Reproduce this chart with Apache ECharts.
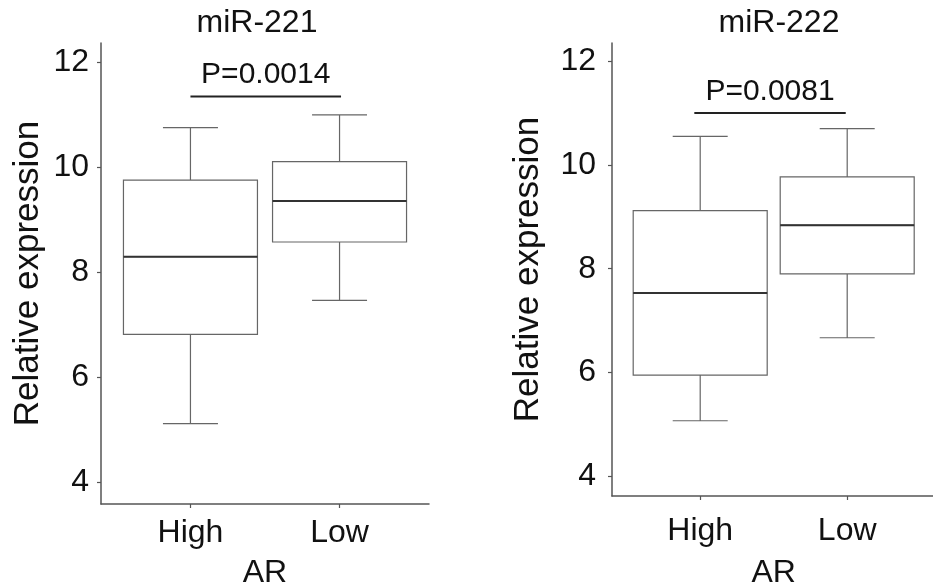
<!DOCTYPE html>
<html><head><meta charset="utf-8">
<script src="https://cdn.jsdelivr.net/npm/echarts@6/dist/echarts.min.js"></script>
<style>html,body{margin:0;padding:0;background:#fff}#c{width:933px;height:586px}</style>
</head><body><div id="c"></div>
<script>
// ---- data ----
const categories = ['High', 'Low'];
const titles = ['miR-221', 'miR-222'];
const xAxisName = 'AR';
const yAxisName = 'Relative expression';
const yTicks = [4, 6, 8, 10, 12];
// [min, Q1, median, Q3, max]
const mir221High = [5.12, 6.82, 8.30, 9.76, 10.76];
const mir221Low  = [7.47, 8.58, 9.36, 10.11, 11.00];
const mir222High = [5.07, 5.95, 7.53, 9.12, 10.55];
const mir222Low  = [6.67, 7.90, 8.84, 9.77, 10.70];
const pLabels = ['P=0.0014', 'P=0.0081'];
const pBarY = [11.35, 11.00];
const pBarX = [[1.00, 2.01], [0.96, 1.99]];

// ---- layout / style ----
const FONT = "'Liberation Sans', Arial, sans-serif";
const panels = [
  { groups: [mir221High, mir221Low], grid: { left: 101, top: 43, width: 328, height: 461 },
    yRange: [3.59, 12.37], titleX: 257, labelMargin: 12, nameGap: 55, xLabelMargin: 13, xNameGap: 53 },
  { groups: [mir222High, mir222Low], grid: { left: 612, top: 43, width: 323.4, height: 453 },
    yRange: [3.62, 12.35], titleX: 779, labelMargin: 16, nameGap: 66, xLabelMargin: 19, xNameGap: 61 }
];

const grid = [], xAxis = [], yAxis = [], series = [], title = [];
panels.forEach((p, i) => {
  grid.push(Object.assign({ containLabel: false, outerBoundsMode: 'none' }, p.grid));
  title.push({ text: titles[i], left: p.titleX, top: 7, textAlign: 'center', padding: 0,
    textStyle: { fontFamily: FONT, fontSize: 32, fontWeight: 'normal', color: '#111' } });
  // main visible x axis
  xAxis.push({
    type: 'value', gridIndex: i, min: 0.4, max: 2.6,
    axisLine: { show: true, lineStyle: { color: '#555', width: 1.5 } },
    axisTick: { show: true, length: 4, customValues: [1, 2], lineStyle: { color: '#555', width: 1.2 } },
    axisLabel: { customValues: [1, 2], formatter: v => categories[Math.round(v) - 1] || '',
      fontFamily: FONT, fontSize: 32, color: '#111', margin: p.xLabelMargin },
    splitLine: { show: false },
    name: xAxisName, nameLocation: 'middle', nameGap: p.xNameGap,
    nameTextStyle: { fontFamily: FONT, fontSize: 32, color: '#111' }
  });
  // two hidden overlay x axes (so boxplot series overlay instead of dodge)
  for (let k = 0; k < 2; k++) {
    xAxis.push({ type: 'value', gridIndex: i, min: 0.4, max: 2.6, show: false });
  }
  yAxis.push({
    type: 'value', gridIndex: i, min: p.yRange[0], max: p.yRange[1],
    axisLine: { show: true, lineStyle: { color: '#555', width: 1.5 } },
    axisTick: { show: true, length: 4, customValues: yTicks, lineStyle: { color: '#555', width: 1.2 } },
    axisLabel: { customValues: yTicks, fontFamily: FONT, fontSize: 32, color: '#111', margin: p.labelMargin },
    splitLine: { show: false },
    name: yAxisName, nameLocation: 'middle', nameGap: p.nameGap, nameRotate: 90,
    nameTextStyle: { fontFamily: FONT, fontSize: 35, color: '#111' }
  });
  const xb = i * 3;
  // whiskers with narrow caps
  series.push({
    type: 'boxplot', xAxisIndex: xb + 1, yAxisIndex: i, z: 2, silent: true,
    boxWidth: [55, 55],
    itemStyle: { color: '#fff', borderColor: '#666', borderWidth: 1.2 },
    emphasis: { disabled: true },
    data: p.groups.map((g, k) => [k + 1, g[0], g[2], g[2], g[2], g[4]])
  });
  // boxes
  series.push({
    type: 'boxplot', xAxisIndex: xb, yAxisIndex: i, z: 3, silent: true,
    boxWidth: [134, 134],
    itemStyle: { color: '#fff', borderColor: '#666', borderWidth: 1.2 },
    emphasis: { disabled: true },
    data: p.groups.map((g, k) => [k + 1, g[1], g[1], g[2], g[3], g[3]])
  });
  // medians
  series.push({
    type: 'boxplot', xAxisIndex: xb + 2, yAxisIndex: i, z: 4, silent: true,
    boxWidth: [134, 134],
    itemStyle: { color: 'rgba(0,0,0,0)', borderColor: '#333', borderWidth: 2 },
    emphasis: { disabled: true },
    data: p.groups.map((g, k) => [k + 1, g[2], g[2], g[2], g[2], g[2]])
  });
  // significance bar
  series.push({
    type: 'line', xAxisIndex: xb, yAxisIndex: i, z: 5, silent: true, symbol: 'none',
    lineStyle: { color: '#222', width: 2 },
    data: [[pBarX[i][0], pBarY[i]], [pBarX[i][1], pBarY[i]]]
  });
  series.push({
    type: 'scatter', xAxisIndex: xb, yAxisIndex: i, z: 5, silent: true, symbolSize: 1,
    itemStyle: { color: 'rgba(0,0,0,0)', opacity: 1 },
    label: { show: true, position: 'top', distance: 6, formatter: pLabels[i],
      fontFamily: FONT, fontSize: 30, color: '#111', opacity: 1 },
    data: [[(pBarX[i][0] + pBarX[i][1]) / 2, pBarY[i]]]
  });
});

const chart = echarts.init(document.getElementById('c'), null, { renderer: 'canvas' });
chart.setOption({ animation: false, backgroundColor: '#fff', title, grid, xAxis, yAxis, series, tooltip: { show: false } });
</script></body></html>
